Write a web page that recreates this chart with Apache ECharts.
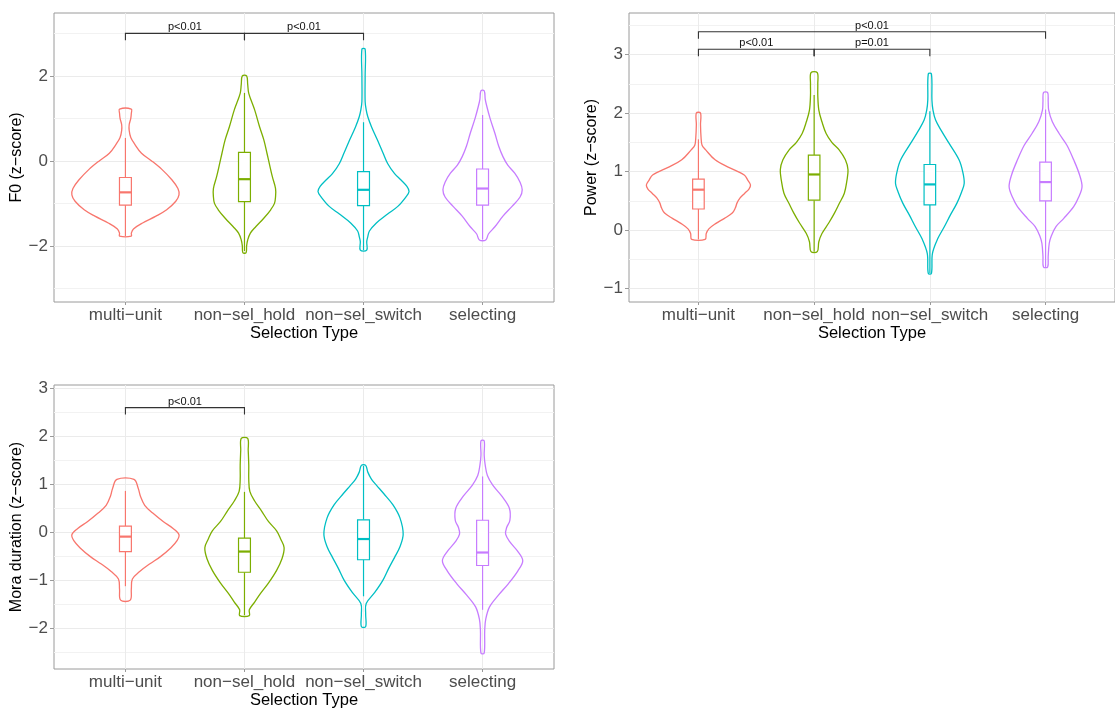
<!DOCTYPE html>
<html>
<head>
<meta charset="utf-8">
<script src="https://cdn.jsdelivr.net/npm/echarts@6/dist/echarts.min.js"></script>
<style>
html,body{margin:0;padding:0;background:#fff;}
#chart{width:1115px;height:710px;}
</style>
</head>
<body>
<div id="chart"></div>
<script>
// ---------------- DATA ----------------
const categories = ['multi\u2212unit', 'non\u2212sel_hold', 'non\u2212sel_switch', 'selecting'];
const colors = ['#F8766D', '#7CAE00', '#00BFC4', '#C77CFF'];
const xTitle = 'Selection Type';
const yTitles = ['F0 (z\u2212score)', 'Power (z\u2212score)', 'Mora duration (z\u2212score)'];

// y ranges and ticks
const yRanges = [[-3.32, 3.48], [-1.23, 3.71], [-2.84, 3.06]];
const yMajorTicks = [[-2, 0, 2], [-1, 0, 1, 2, 3], [-2, -1, 0, 1, 2, 3]];
const yMinorTicks = [[-3, -1, 1, 3], [-0.5, 0.5, 1.5, 2.5, 3.5], [-2.5, -1.5, -0.5, 0.5, 1.5, 2.5]];

// Violin density profiles: [value, relative density (0-100)]
const f0Violins = [
  [[1.22,11],[1.12,11],[1.0,10],[0.85,7],[0.72,7],[0.55,10],[0.4,17],[0.18,30],[0,49],[-0.2,68],[-0.45,87],[-0.65,98],[-0.8,100],[-0.95,94],[-1.15,77],[-1.3,57],[-1.46,32],[-1.6,15],[-1.7,11],[-1.77,11]],
  [[2.0,4],[1.8,6],[1.59,8],[1.2,19],[0.81,28],[0.5,36],[0.18,42],[-0.1,47],[-0.37,52],[-0.65,58],[-0.84,58],[-1.0,56],[-1.15,49],[-1.35,36],[-1.55,21],[-1.7,11],[-1.86,6],[-2.0,4],[-2.16,3]],
  [[2.63,3],[2.0,3],[1.4,3],[1.2,5],[1.04,8],[0.8,15],[0.49,26],[0.2,36],[-0.06,45],[-0.3,58],[-0.45,70],[-0.6,81],[-0.72,85],[-0.85,79],[-1.07,64],[-1.25,45],[-1.46,24],[-1.65,11],[-1.78,8],[-1.9,6],[-2.1,6]],
  [[1.65,3],[1.45,5],[1.28,8],[1.0,14],[0.65,23],[0.35,30],[0.1,38],[-0.1,47],[-0.29,60],[-0.5,70],[-0.68,74],[-0.85,70],[-1.07,55],[-1.3,38],[-1.55,23],[-1.72,11],[-1.86,6]]
];
const powerViolins = [
  [[2.0,4],[1.8,4],[1.59,5],[1.45,7],[1.37,14],[1.2,32],[1.08,56],[0.94,88],[0.85,95],[0.77,100],[0.7,97],[0.63,89],[0.55,80],[0.46,74],[0.38,71],[0.29,65],[0.2,50],[0.11,33],[0.02,20],[-0.06,15],[-0.16,13]],
  [[2.69,6],[2.5,7],[2.3,7],[2.05,9],[1.85,15],[1.65,23],[1.5,34],[1.37,48],[1.2,60],[1.03,65],[0.85,63],[0.63,58],[0.45,48],[0.29,39],[0.12,28],[-0.06,15],[-0.2,9],[-0.37,6]],
  [[2.67,3],[2.22,4],[2.05,6],[1.88,11],[1.7,22],[1.48,37],[1.2,56],[1.0,63],[0.8,66],[0.65,61],[0.46,52],[0.25,39],[0.06,28],[-0.15,15],[-0.4,5],[-0.74,3]],
  [[2.35,4],[2.2,5],[2.05,6],[1.85,13],[1.65,26],[1.45,41],[1.2,54],[0.95,65],[0.74,70],[0.55,63],[0.4,54],[0.2,35],[0.06,20],[-0.1,11],[-0.23,7],[-0.45,5],[-0.63,4]]
];
const moraViolins = [
  [[1.10,16],[0.91,24],[0.75,28],[0.56,36],[0.4,51],[0.22,71],[0.08,89],[-0.05,100],[-0.18,96],[-0.32,85],[-0.5,66],[-0.66,45],[-0.82,26],[-0.97,13],[-1.18,11],[-1.41,9]],
  [[1.95,6],[1.7,7],[1.39,8],[1.1,8],[0.85,10],[0.65,19],[0.44,32],[0.22,45],[0.03,60],[-0.15,68],[-0.32,74],[-0.55,70],[-0.79,60],[-1.05,45],[-1.27,30],[-1.45,19],[-1.61,9],[-1.73,9]],
  [[1.39,4],[1.25,8],[1.1,15],[0.98,24],[0.8,38],[0.57,55],[0.3,68],[-0.04,74],[-0.3,68],[-0.52,58],[-0.75,47],[-1.0,36],[-1.25,21],[-1.48,5],[-1.7,4],[-1.96,4]],
  [[1.90,3],[1.6,3],[1.39,5],[1.18,9],[0.98,19],[0.75,36],[0.5,50],[0.25,51],[0.1,45],[-0.04,43],[-0.2,51],[-0.4,66],[-0.59,75],[-0.8,66],[-1.07,48],[-1.3,30],[-1.55,13],[-1.8,6],[-2.03,4],[-2.51,3]]
];

// Box stats: [whiskerLow, q1, median, q3, whiskerHigh]
const f0Boxes = [[-1.77,-1.04,-0.74,-0.39,0.54],[-2.12,-0.96,-0.43,0.20,1.60],[-2.1,-1.05,-0.68,-0.25,0.91],[-1.85,-1.04,-0.65,-0.19,1.08]];
const powerBoxes = [[-0.16,0.36,0.69,0.87,1.55],[-0.37,0.51,0.95,1.28,2.31],[-0.74,0.43,0.78,1.12,2.03],[-0.63,0.50,0.82,1.16,2.06]];
const moraBoxes = [[-1.12,-0.40,-0.09,0.13,0.86],[-1.72,-0.83,-0.40,-0.12,0.84],[-1.33,-0.57,-0.14,0.26,1.38],[-1.61,-0.69,-0.42,0.25,1.16]];

// Significance brackets: [fromIndex, toIndex, height, label]
const f0Sig = [[0,1,3.0,'p<0.01'],[1,2,3.0,'p<0.01']];
const powerSig = [[0,1,3.09,'p<0.01'],[1,2,3.09,'p=0.01'],[0,3,3.39,'p<0.01']];
const moraSig = [[0,1,2.59,'p<0.01']];

// ---------------- LAYOUT / STYLE ----------------
const panels = [
  {left:54, top:13, width:500, height:289, violins:f0Violins, boxes:f0Boxes, sig:f0Sig},
  {left:629, top:13, width:497, height:289, violins:powerViolins, boxes:powerBoxes, sig:powerSig},
  {left:54, top:385, width:500, height:289, violins:moraViolins, boxes:moraBoxes, sig:moraSig}
];
const MAXW = 0.45;    // max violin half-width in category units
const BOXW = 0.05;    // box half-width in category units
const FONT = 'Liberation Sans, Arial, Helvetica, sans-serif';
const fmtNum = v => (v < 0 ? '\u2212' + Math.abs(v) : String(v));

const grids = [], xAxes = [], yAxes = [], series = [];
panels.forEach((p, k) => {
  grids.push({left:p.left, top:p.top, width:p.width, height:p.height, show:true,
    borderColor:'#9a9a9a', borderWidth:1, backgroundColor:'transparent'});
  xAxes.push({
    type:'value', gridIndex:k, min:-0.6, max:3.6, position:'bottom',
    name:xTitle, nameLocation:'middle', nameGap:23,
    nameTextStyle:{fontFamily:FONT, fontSize:16.5, color:'#000'},
    axisLine:{show:false, onZero:false},
    axisTick:{show:true, length:3, customValues:[0,1,2,3], lineStyle:{color:'#9a9a9a'}},
    axisLabel:{customValues:[0,1,2,3], formatter:v => categories[Math.round(v)], margin:5,
      fontFamily:FONT, fontSize:17, color:'#4d4d4d'},
    splitLine:{show:true, lineStyle:{color:'#ebebeb', width:1}}
  });
  const [ymin, ymax] = yRanges[k];
  yAxes.push({
    type:'value', gridIndex:k, min:ymin, max:ymax, position:'left',
    name:yTitles[k], nameLocation:'middle', nameGap:27,
    nameTextStyle:{fontFamily:FONT, fontSize:16, color:'#000'},
    axisLine:{show:false, onZero:false},
    axisTick:{show:true, length:4, customValues:yMajorTicks[k], lineStyle:{color:'#9a9a9a'}},
    axisLabel:{customValues:yMajorTicks[k], formatter:fmtNum, margin:6,
      fontFamily:FONT, fontSize:17, color:'#4d4d4d'},
    splitLine:{show:true, lineStyle:{color:'#ebebeb', width:1}}
  });
  yAxes.push({
    type:'value', gridIndex:k, min:ymin, max:ymax, show:true, position:'left',
    axisLine:{show:false, onZero:false}, axisLabel:{show:false},
    axisTick:{show:false, customValues:yMinorTicks[k]},
    splitLine:{show:true, lineStyle:{color:'#f2f2f2', width:1}}
  });
  const yRange = ymax - ymin;

  // violins + boxplots
  series.push({
    type:'custom', xAxisIndex:k, yAxisIndex:2*k,
    data: categories.map((c, i) => [i, 0]),
    clip:false,
    renderItem(params, api) {
      const i = params.dataIndex;
      const prof = p.violins[i];
      const pts = [];
      prof.forEach(([y, d]) => pts.push(api.coord([i + d/100*MAXW, y])));
      prof.slice().reverse().forEach(([y, d]) => pts.push(api.coord([i - d/100*MAXW, y])));
      const [wl, q1, med, q3, wh] = p.boxes[i];
      const a = api.coord([i - BOXW, q3]), b = api.coord([i + BOXW, q1]);
      const c0 = api.coord([i, wh]), c1 = api.coord([i, q3]);
      const c2 = api.coord([i, q1]), c3 = api.coord([i, wl]);
      const m0 = api.coord([i - BOXW, med]), m1 = api.coord([i + BOXW, med]);
      const col = colors[i];
      return {type:'group', children:[
        {type:'polygon', shape:{points:pts, smooth:0.35}, style:{fill:'none', stroke:col, lineWidth:1.3}},
        {type:'line', shape:{x1:c0[0], y1:c0[1], x2:c1[0], y2:c1[1]}, style:{stroke:col, lineWidth:1.2}},
        {type:'line', shape:{x1:c2[0], y1:c2[1], x2:c3[0], y2:c3[1]}, style:{stroke:col, lineWidth:1.2}},
        {type:'rect', shape:{x:a[0], y:a[1], width:b[0]-a[0], height:b[1]-a[1]}, style:{fill:'#fff', stroke:col, lineWidth:1.2}},
        {type:'line', shape:{x1:m0[0], y1:m0[1], x2:m1[0], y2:m1[1]}, style:{stroke:col, lineWidth:2.2}}
      ]};
    }
  });

  // significance brackets
  series.push({
    type:'custom', xAxisIndex:k, yAxisIndex:2*k,
    data: p.sig.map(s => [s[0], s[2]]),
    clip:false,
    renderItem(params, api) {
      const [from, to, h, label] = p.sig[params.dataIndex];
      const tip = 0.024 * yRange;
      const p0 = api.coord([from, h - tip]), p1 = api.coord([from, h]);
      const p2 = api.coord([to, h]), p3 = api.coord([to, h - tip]);
      const mid = api.coord([(from + to) / 2, h]);
      return {type:'group', children:[
        {type:'polyline', shape:{points:[p0, p1, p2, p3]}, style:{fill:'none', stroke:'#333', lineWidth:1.1}},
        {type:'text', style:{text:label, x:mid[0], y:mid[1] - 0.5, align:'center', verticalAlign:'bottom',
          fontFamily:FONT, fontSize:11, fill:'#111'}}
      ]};
    }
  });
});

const chart = echarts.init(document.getElementById('chart'), null, {renderer:'canvas'});
chart.setOption({
  animation:false,
  backgroundColor:'#fff',
  grid:grids, xAxis:xAxes, yAxis:yAxes, series:series
});
</script>
</body>
</html>
